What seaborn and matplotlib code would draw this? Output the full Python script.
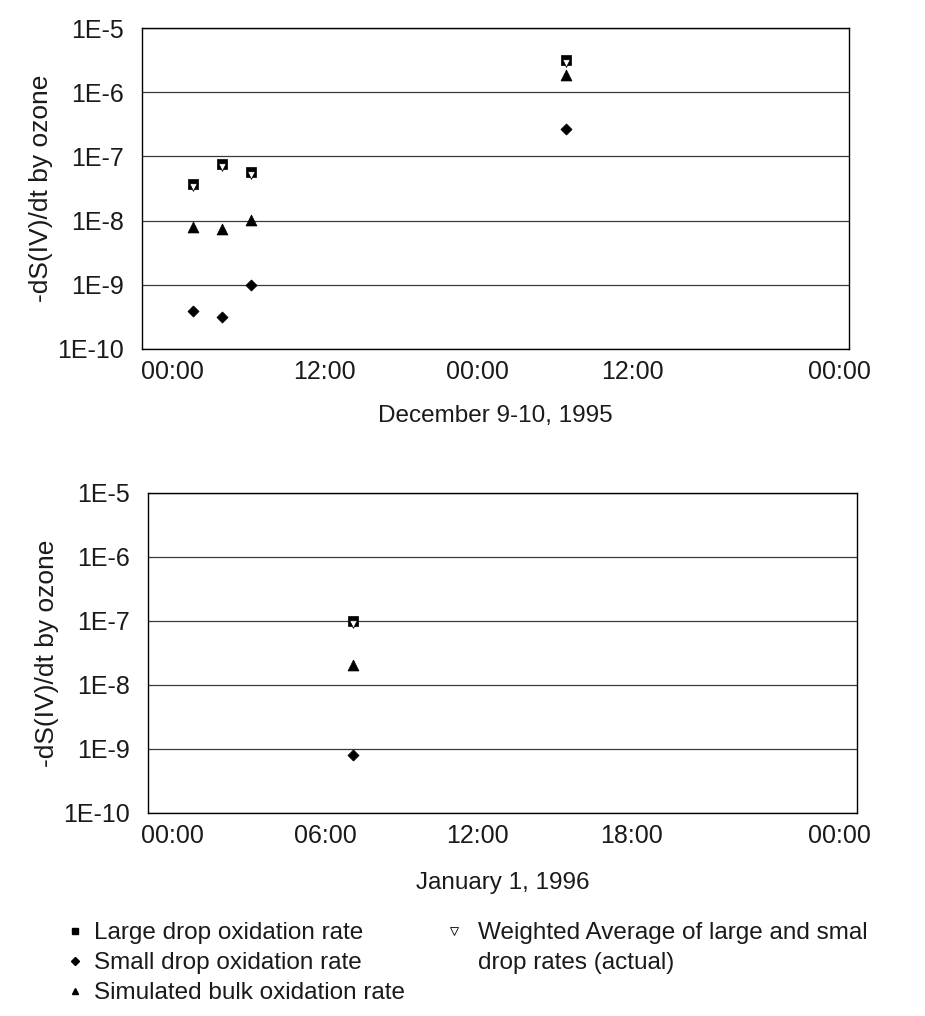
import numpy as np
import pandas as pd
import matplotlib
matplotlib.use("Agg")
import matplotlib.pyplot as plt
import matplotlib.dates as mdates
import matplotlib.transforms as mtransforms
from matplotlib.ticker import FixedLocator, FuncFormatter, NullLocator
from matplotlib.lines import Line2D
import seaborn as sns

sns.set_style("white")
plt.rcParams["font.family"] = ["Liberation Sans", "DejaVu Sans"]

# ---- December 9-10, 1995 event ----
dec_times = ["1995-12-09 03:28", "1995-12-09 05:26", "1995-12-09 07:24", "1995-12-10 04:48"]
dec_large = [3.7e-8, 7.6e-8, 5.8e-8, 3.2e-6]
dec_weighted = [3.3e-8, 6.8e-8, 5.2e-8, 2.9e-6]
dec_small = [3.95e-10, 3.2e-10, 1.0e-9, 2.7e-7]
dec_bulk = [8.0e-9, 7.5e-9, 1.02e-8, 1.85e-6]

# ---- January 1, 1996 event ----
jan_times = ["1996-01-01 06:56"]
jan_large = [1.0e-7]
jan_weighted = [9.0e-8]
jan_small = [8.1e-10]
jan_bulk = [2.05e-8]

series_labels = [
    "Large drop oxidation rate",
    "Small drop oxidation rate",
    "Simulated bulk oxidation rate",
    "Weighted Average of large and smal",
    "drop rates (actual)",
]
y_decades = [1e-10, 1e-9, 1e-8, 1e-7, 1e-6, 1e-5]

FS_TICK = 18
FS_YLAB = 19
FS_TEXT = 17.5
TXT = "#1a1a1a"
styles = {
    "large": dict(marker="s", s=62, color="black", edgecolor="black", linewidth=0.5, zorder=3),
    "small": dict(marker="D", s=32, color="black", edgecolor="black", linewidth=0.5, zorder=3),
    "bulk": dict(marker="^", s=62, color="black", edgecolor="black", linewidth=0.5, zorder=3),
    "weighted": dict(marker="v", s=30, color="white", edgecolor="black", linewidth=0.6, zorder=4),
}


def panel(ax, times, large, small, bulk, weighted, start, end, step_h, xlabel, xpad):
    t = pd.to_datetime(times)
    frame = pd.DataFrame({"time": t, "large": large, "small": small,
                          "bulk": bulk, "weighted": weighted})
    for key in ["large", "small", "bulk", "weighted"]:
        sns.scatterplot(data=frame, x="time", y=key, ax=ax, legend=False, **styles[key])
    ax.set_yscale("log")
    ax.set_ylim(1e-10, 1e-5)
    ax.yaxis.set_major_locator(FixedLocator(y_decades))
    ax.yaxis.set_minor_locator(NullLocator())
    ax.yaxis.set_major_formatter(FuncFormatter(lambda v, p: f"1E{int(round(np.log10(v)))}"))
    t0, t1 = pd.Timestamp(start), pd.Timestamp(end)
    ax.set_xlim(t0, t1)
    ticks = pd.date_range(t0, t1, freq=f"{step_h}h")
    ax.set_xticks(ticks)
    ax.xaxis.set_major_formatter(mdates.DateFormatter("%H:%M"))
    ax.xaxis.set_minor_locator(NullLocator())
    ax.yaxis.grid(True, color="#3a3a3a", linewidth=0.9)
    ax.xaxis.grid(False)
    for sp in ax.spines.values():
        sp.set_color("black")
        sp.set_linewidth(1.0)
    ax.tick_params(axis="both", length=0, labelsize=FS_TICK, colors=TXT)
    ax.tick_params(axis="y", pad=13)
    ax.tick_params(axis="x", pad=8)
    ax.set_ylabel("-dS(IV)/dt by ozone", fontsize=FS_YLAB, color=TXT, labelpad=3)
    ax.set_xlabel(xlabel, fontsize=FS_TEXT, color=TXT, labelpad=xpad)


def nudge_time_labels(fig, ax, shifts_px):
    # the hour labels sit slightly off their (hidden) tick marks
    fig.canvas.draw()
    for lab, dx in zip(ax.xaxis.get_majorticklabels(), shifts_px):
        off = mtransforms.ScaledTranslation(dx / 100.0, 0, fig.dpi_scale_trans)
        lab.set_transform(lab.get_transform() + off)


fig = plt.figure(figsize=(9.25, 10.16), dpi=100)
ax1 = fig.add_axes([142 / 925, 1 - 349 / 1016, 707 / 925, 321 / 1016])
ax2 = fig.add_axes([148 / 925, 1 - 813 / 1016, 709 / 925, 320 / 1016])

panel(ax1, dec_times, dec_large, dec_small, dec_bulk, dec_weighted,
      "1995-12-09 00:00", "1995-12-11 00:00", 12, "December 9-10, 1995", 15)
panel(ax2, jan_times, jan_large, jan_small, jan_bulk, jan_weighted,
      "1996-01-01 00:00", "1996-01-02 00:00", 6, "January 1, 1996", 17)

nudge_time_labels(fig, ax1, [30, 6, -18, -40, -10])
nudge_time_labels(fig, ax2, [24, 0, -25, -48, -18])

# legend in two blocks below the lower panel
h_large = Line2D([], [], linestyle="none", marker="s", markersize=5, color="black")
h_small = Line2D([], [], linestyle="none", marker="D", markersize=4, color="black")
h_bulk = Line2D([], [], linestyle="none", marker="^", markersize=5, color="black")
h_weight = Line2D([], [], linestyle="none", marker="v", markersize=6,
                  markerfacecolor="white", markeredgecolor="black", markeredgewidth=0.6)
h_cont = Line2D([], [], linestyle="none", marker="none")  # continuation line of the label

common = dict(frameon=False, fontsize=FS_TEXT, handlelength=0.4,
              labelspacing=0.33, borderpad=0, borderaxespad=0, labelcolor=TXT)
leg1 = fig.legend([h_large, h_small, h_bulk], series_labels[:3], loc="upper left",
                  bbox_to_anchor=(70 / 925, 1 - 922 / 1016), handletextpad=0.58, **common)
leg2 = fig.legend([h_weight, h_cont], series_labels[3:], loc="upper left",
                  bbox_to_anchor=(449 / 925, 1 - 922 / 1016), handletextpad=0.78, **common)

fig.savefig("out.png", dpi=100, facecolor="white")
